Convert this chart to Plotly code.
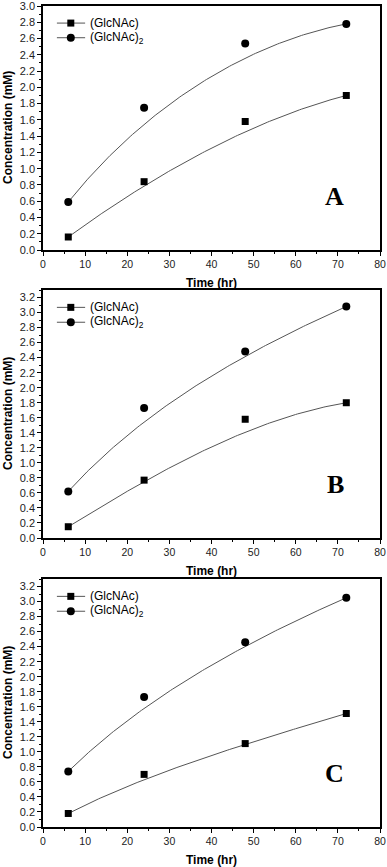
import numpy as np
import plotly.graph_objects as go
from plotly.subplots import make_subplots

time_hr = [6, 24, 48, 72]

a_mono = [0.16, 0.84, 1.58, 1.90]
a_di = [0.59, 1.75, 2.54, 2.78]
b_mono = [0.15, 0.77, 1.58, 1.80]
b_di = [0.62, 1.73, 2.48, 3.08]
c_mono = [0.18, 0.70, 1.11, 1.51]
c_di = [0.74, 1.73, 2.46, 3.05]

panels = [("A", a_mono, a_di, 3.0), ("B", b_mono, b_di, 3.3), ("C", c_mono, c_di, 3.3)]

# plot area positions in pixels (top, bottom) from the reference
H = 867
L, R = 43, 7
boxes = [(6, 250), (290, 538), (579, 827)]

font = "Liberation Sans, Arial, sans-serif"
line_col = "#555555"


def bspline(xs, ys, n=150):
    # Origin-style B-spline connect: with 4 points it is a cubic Bezier
    t = np.linspace(0, 1, n)[:, None]
    b = np.hstack([(1 - t) ** 3, 3 * t * (1 - t) ** 2, 3 * t ** 2 * (1 - t), t ** 3])
    return b @ np.array(xs, float), b @ np.array(ys, float)


fig = make_subplots(rows=3, cols=1)

for i, (letter, mono, di, ytop) in enumerate(panels):
    row = i + 1
    xref = "x" if row == 1 else f"x{row}"
    yref = "y" if row == 1 else f"y{row}"

    for vals in (mono, di):
        cx, cy = bspline(time_hr, vals)
        fig.add_trace(go.Scatter(x=cx, y=cy, mode="lines",
                                 line=dict(color=line_col, width=1), showlegend=False,
                                 hoverinfo="skip"), row=row, col=1)
    fig.add_trace(go.Scatter(x=time_hr, y=mono, mode="markers", name="(GlcNAc)",
                             marker=dict(symbol="square", size=7, color="black"),
                             showlegend=False), row=row, col=1)
    fig.add_trace(go.Scatter(x=time_hr, y=di, mode="markers", name="(GlcNAc)<sub>2</sub>",
                             marker=dict(symbol="circle", size=8, color="black"),
                             showlegend=False), row=row, col=1)

    top, bot = boxes[i]
    dom = [1 - bot / H, 1 - top / H]
    axis_common = dict(showline=True, linecolor="black", linewidth=1.5, mirror=True,
                       ticks="outside", ticklen=4, tickwidth=1, tickcolor="black",
                       showgrid=False, zeroline=False, ticklabeloverflow="allow",
                       automargin=False)
    fig.update_xaxes(range=[0, 80], tickvals=list(range(0, 81, 10)), **axis_common,
                     tickfont=dict(family=font, size=10.5, color="#222"),
                     minor=dict(ticks="outside", ticklen=2, dtick=5, tickcolor="black"),
                     row=row, col=1)
    yticks = [round(v * 0.2, 1) for v in range(int(ytop / 0.2 + 1e-6) + 1)]
    fig.update_yaxes(range=[0, ytop], tickvals=yticks, ticktext=[f"{v:.1f}" for v in yticks],
                     **axis_common, tickfont=dict(family=font, size=11, color="#222"),
                     minor=dict(ticks="outside", ticklen=2, dtick=0.1, tickcolor="black"),
                     domain=dom, row=row, col=1)

    # axis titles
    fig.add_annotation(x=0.5, y=1 - (bot + 33) / H, xref="paper", yref="paper",
                       text="<b>Time (hr)</b>", showarrow=False, yanchor="middle",
                       font=dict(family=font, size=12, color="black"))
    fig.add_annotation(x=-(L - 8) / (387 - L - R), y=1 - (top + bot) / 2 / H, xref="paper", yref="paper",
                       text="<b>Concentration (mM)</b>", showarrow=False, textangle=-90,
                       xanchor="center", yanchor="middle",
                       font=dict(family=font, size=12, color="black"))

    fig.add_annotation(x=0.9, y=0.15, xref=f"{xref} domain", yref=f"{yref} domain",
                       text=f"<b>{letter}</b>", showarrow=False,
                       font=dict(family="Liberation Serif, Times New Roman, serif", size=26, color="black"))

    # legend drawn per panel
    for k, (sym, label) in enumerate([("square", "(GlcNAc)"), ("circle", "(GlcNAc)<sub>2</sub>")]):
        ly = (0.93 - k * 0.06) * ytop
        fig.add_trace(go.Scatter(x=[3.3, 10], y=[ly, ly], mode="lines",
                                 line=dict(color=line_col, width=1), showlegend=False,
                                 hoverinfo="skip"), row=row, col=1)
        fig.add_trace(go.Scatter(x=[6.6], y=[ly], mode="markers",
                                 marker=dict(symbol=sym, size=7 if sym == "square" else 8, color="black"),
                                 showlegend=False, hoverinfo="skip"), row=row, col=1)
        fig.add_annotation(x=10.6, y=ly, xref=xref, yref=yref, text=label,
                           showarrow=False, xanchor="left", yanchor="middle",
                           font=dict(family=font, size=12, color="black"))

fig.update_layout(width=387, height=867, plot_bgcolor="white", paper_bgcolor="white",
                  margin=dict(l=L, r=R, t=0, b=0), showlegend=False)

# page body has a default 8px margin; drop it so the figure sits at the window corner
fig.write_html("out.html", config={"displayModeBar": False},
               post_script="document.body.style.margin='0';")
